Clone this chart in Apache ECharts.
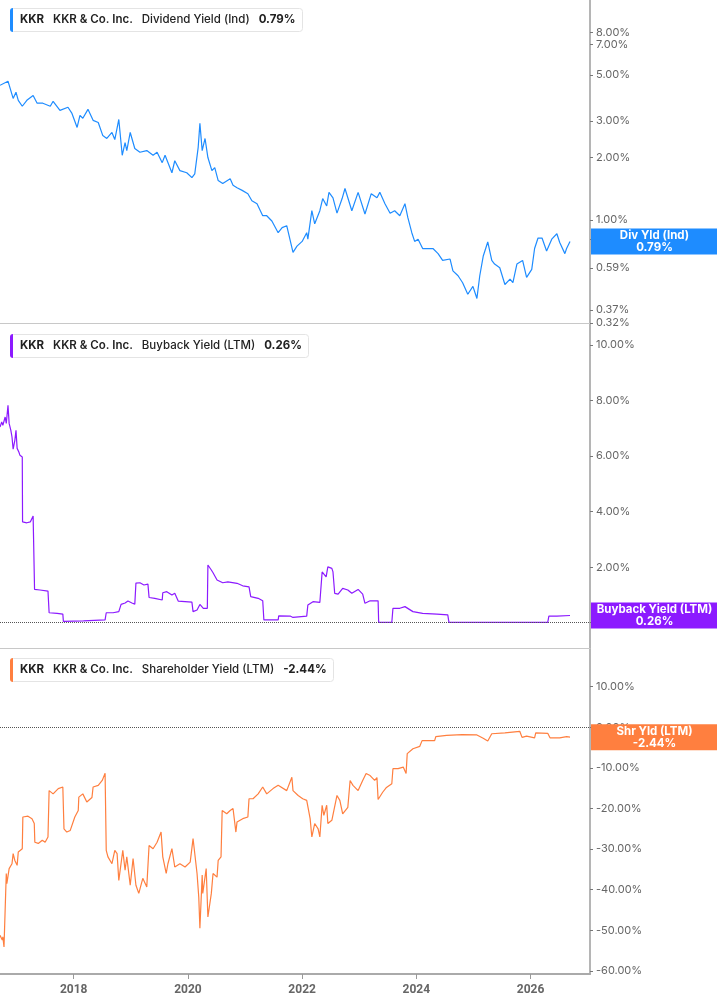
<!DOCTYPE html>
<html>
<head>
<meta charset="utf-8">
<title>KKR yields</title>
<script src="https://cdn.jsdelivr.net/npm/echarts@6/dist/echarts.min.js"></script>
<style>
  html, body { height: 100%; margin: 0; background: #fff; }
  #main { width: 717px; height: 1005px; }
</style>
</head>
<body>
<div id="main"></div>
<script>
// x values are decimal years, y values are percent
var divYield = [
  [2016.71,4.45],[2016.85,4.66],[2016.94,3.85],[2016.99,4.12],[2017.03,3.77],[2017.10,3.53],[2017.18,3.77],
  [2017.29,3.98],[2017.36,3.65],[2017.46,3.65],[2017.59,3.53],[2017.64,3.73],[2017.76,3.37],[2017.90,3.49],
  [2017.97,3.26],[2018.06,2.79],[2018.11,3.19],[2018.16,3.09],[2018.25,3.41],[2018.34,3.02],[2018.43,2.95],
  [2018.51,2.55],[2018.58,2.47],[2018.67,2.64],[2018.72,2.44],[2018.79,3.05],[2018.85,2.05],[2018.90,2.36],
  [2018.93,2.16],[2018.99,2.64],[2019.07,2.21],[2019.16,2.12],[2019.28,2.16],[2019.39,2.05],[2019.46,2.12],
  [2019.55,1.89],[2019.60,2.05],[2019.72,1.69],[2019.77,1.93],[2019.86,1.73],[2019.98,1.69],[2020.07,1.60],
  [2020.12,1.67],[2020.18,2.24],[2020.21,2.92],[2020.25,2.16],[2020.30,2.47],[2020.35,2.00],[2020.42,1.73],
  [2020.47,1.79],[2020.53,1.55],[2020.61,1.50],[2020.74,1.58],[2020.79,1.47],[2020.86,1.43],[2020.95,1.39],
  [2021.05,1.34],[2021.12,1.24],[2021.21,1.20],[2021.31,1.05],[2021.38,1.05],[2021.47,0.99],[2021.58,0.87],
  [2021.65,0.92],[2021.73,0.94],[2021.84,0.70],[2021.91,0.75],[2022.00,0.79],[2022.08,0.87],[2022.10,0.81],
  [2022.17,1.11],[2022.22,0.96],[2022.31,1.11],[2022.36,1.27],[2022.43,1.17],[2022.47,1.36],[2022.54,1.28],
  [2022.61,1.08],[2022.70,1.27],[2022.75,1.42],[2022.87,1.11],[2022.98,1.36],[2023.10,1.07],[2023.21,1.34],
  [2023.31,1.28],[2023.36,1.36],[2023.45,1.20],[2023.54,1.08],[2023.62,1.11],[2023.71,1.05],[2023.80,1.20],
  [2023.85,1.03],[2023.92,0.87],[2023.97,0.79],[2024.03,0.81],[2024.11,0.73],[2024.20,0.73],[2024.29,0.73],
  [2024.38,0.69],[2024.46,0.64],[2024.59,0.65],[2024.64,0.57],[2024.73,0.54],[2024.81,0.50],[2024.90,0.44],
  [2024.99,0.48],[2025.06,0.42],[2025.11,0.54],[2025.17,0.67],[2025.25,0.785],[2025.32,0.64],[2025.37,0.615],
  [2025.46,0.59],[2025.55,0.49],[2025.64,0.52],[2025.69,0.50],[2025.76,0.615],[2025.86,0.64],[2025.93,0.53],
  [2026.02,0.58],[2026.07,0.73],[2026.13,0.82],[2026.20,0.82],[2026.28,0.71],[2026.37,0.81],[2026.46,0.86],
  [2026.51,0.78],[2026.60,0.69],[2026.63,0.73],[2026.69,0.79]
];

var buyback = [
  [2016.71,7.05],[2016.74,7.23],[2016.76,7.11],[2016.80,7.41],[2016.82,7.18],[2016.85,7.83],[2016.87,7.18],
  [2016.90,6.93],[2016.92,6.69],[2016.94,6.25],[2016.97,6.57],[2016.99,6.93],[2017.01,6.28],[2017.04,6.15],
  [2017.06,6.03],[2017.08,6.10],[2017.10,5.97],[2017.105,3.63],[2017.18,3.60],[2017.24,3.63],[2017.29,3.84],
  [2017.31,3.80],[2017.315,1.20],[2017.41,1.18],[2017.55,1.14],[2017.57,0.36],[2017.71,0.34],[2017.81,0.31],
  [2017.82,0.05],[2018.17,0.07],[2018.55,0.10],[2018.57,0.36],[2018.69,0.36],[2018.79,0.40],[2018.83,0.66],
  [2018.90,0.71],[2018.95,0.78],[2019.02,0.71],[2019.07,0.67],[2019.09,1.43],[2019.16,1.44],[2019.23,1.36],
  [2019.30,1.39],[2019.32,0.91],[2019.42,0.88],[2019.55,0.82],[2019.56,1.08],[2019.63,1.12],[2019.72,1.00],
  [2019.77,1.06],[2019.83,0.78],[2019.95,0.76],[2020.07,0.74],[2020.09,0.40],[2020.16,0.46],[2020.21,0.66],
  [2020.27,0.52],[2020.34,0.52],[2020.35,2.08],[2020.41,1.90],[2020.44,1.80],[2020.51,1.54],[2020.61,1.44],
  [2020.70,1.47],[2020.86,1.42],[2020.96,1.33],[2021.07,1.29],[2021.10,0.94],[2021.23,0.88],[2021.31,0.79],
  [2021.33,0.10],[2021.58,0.10],[2021.59,0.25],[2021.79,0.24],[2021.84,0.19],[2022.08,0.24],[2022.10,0.64],
  [2022.19,0.76],[2022.31,0.73],[2022.35,1.83],[2022.36,1.90],[2022.42,1.65],[2022.45,2.01],[2022.52,1.96],
  [2022.54,1.83],[2022.57,1.06],[2022.63,1.03],[2022.71,1.24],[2022.80,1.18],[2022.87,1.06],[2022.98,1.20],
  [2023.06,1.03],[2023.10,0.70],[2023.19,0.79],[2023.33,0.79],[2023.34,0.01],[2023.57,0.01],[2023.59,0.52],
  [2023.71,0.52],[2023.80,0.58],[2023.94,0.40],[2024.11,0.34],[2024.36,0.31],[2024.55,0.28],[2024.57,0.01],
  [2026.30,0.01],[2026.32,0.24],[2026.46,0.24],[2026.69,0.26]
];

var shrYield = [
  [2016.71,-51.2],[2016.75,-52.4],[2016.76,-51.6],[2016.78,-54.1],[2016.82,-36.0],[2016.83,-38.5],[2016.87,-34.8],
  [2016.92,-33.6],[2016.94,-31.1],[2016.97,-32.8],[2017.01,-34.0],[2017.03,-30.7],[2017.10,-29.9],[2017.11,-22.1],
  [2017.20,-21.9],[2017.27,-22.5],[2017.31,-23.7],[2017.32,-28.3],[2017.38,-28.6],[2017.45,-27.8],[2017.50,-28.3],
  [2017.55,-27.0],[2017.57,-15.6],[2017.64,-16.4],[2017.73,-15.1],[2017.81,-14.7],[2017.83,-25.0],[2017.88,-25.8],
  [2017.94,-25.4],[2018.02,-22.1],[2018.08,-20.5],[2018.09,-17.2],[2018.16,-16.4],[2018.23,-18.4],[2018.32,-17.3],
  [2018.34,-14.7],[2018.43,-14.3],[2018.50,-13.1],[2018.55,-11.3],[2018.57,-30.3],[2018.60,-31.9],[2018.67,-33.6],
  [2018.72,-30.3],[2018.76,-31.1],[2018.79,-37.7],[2018.86,-30.3],[2018.90,-35.2],[2018.93,-31.9],[2018.99,-38.9],
  [2019.04,-32.3],[2019.09,-38.9],[2019.14,-40.9],[2019.21,-37.2],[2019.28,-39.3],[2019.32,-29.1],[2019.39,-29.9],
  [2019.46,-28.3],[2019.53,-25.8],[2019.56,-31.9],[2019.62,-36.0],[2019.65,-33.6],[2019.72,-29.9],[2019.77,-34.4],
  [2019.86,-33.6],[2019.95,-34.4],[2020.04,-33.2],[2020.09,-27.4],[2020.12,-27.4],[2020.16,-36.0],[2020.19,-41.8],
  [2020.21,-49.5],[2020.25,-36.4],[2020.26,-40.9],[2020.32,-34.8],[2020.35,-46.7],[2020.41,-40.9],[2020.44,-36.0],
  [2020.51,-36.9],[2020.53,-32.8],[2020.58,-31.9],[2020.60,-20.5],[2020.68,-21.3],[2020.74,-20.5],[2020.79,-20.0],
  [2020.84,-25.8],[2020.86,-23.3],[2020.96,-22.5],[2021.05,-22.1],[2021.07,-17.6],[2021.14,-17.6],[2021.23,-16.4],
  [2021.31,-14.7],[2021.38,-16.4],[2021.49,-15.1],[2021.58,-14.3],[2021.73,-15.6],[2021.82,-12.3],[2021.84,-15.6],
  [2021.93,-16.8],[2022.01,-17.6],[2022.08,-18.0],[2022.14,-22.5],[2022.17,-27.0],[2022.22,-23.7],[2022.28,-25.0],
  [2022.31,-27.0],[2022.35,-19.2],[2022.38,-21.7],[2022.43,-19.2],[2022.45,-23.7],[2022.52,-22.9],[2022.61,-16.8],
  [2022.66,-18.0],[2022.71,-21.3],[2022.80,-19.7],[2022.84,-13.1],[2022.89,-14.3],[2022.98,-15.6],[2023.06,-13.1],
  [2023.12,-11.4],[2023.19,-11.9],[2023.27,-13.1],[2023.31,-12.4],[2023.33,-17.8],[2023.41,-16.0],[2023.47,-14.9],
  [2023.50,-15.1],[2023.57,-13.9],[2023.59,-10.2],[2023.68,-10.2],[2023.77,-9.8],[2023.82,-11.4],[2023.84,-6.5],
  [2023.94,-5.3],[2024.06,-4.7],[2024.10,-3.3],[2024.32,-3.3],[2024.34,-2.3],[2024.53,-2.0],[2024.80,-1.8],
  [2024.81,-2.2],[2025.06,-1.9],[2025.17,-2.7],[2025.25,-3.4],[2025.32,-1.6],[2025.55,-1.4],[2025.58,-1.0],
  [2025.81,-1.0],[2025.85,-2.5],[2025.93,-2.2],[2026.07,-2.6],[2026.09,-1.4],[2026.30,-1.5],[2026.34,-2.6],
  [2026.51,-2.6],[2026.63,-2.3],[2026.69,-2.44]
];

var yearTicks = [2018, 2020, 2022, 2024, 2026];
var divTicks = [0.32, 0.37, 0.59, 0.81, 1, 2, 3, 5, 7, 8];
var buyTicks = [0, 2, 4, 6, 8, 10];
var shrTicks = [10, 0, -10, -20, -30, -40, -50, -60];

var lastDiv = 0.79, lastBuy = 0.26, lastShr = -2.44;
var xMin = 2016.71, xMax = 2027.04;

var C = { div: '#1e8cff', buy: '#8c1aff', shr: '#ff7f3f' };

function pct(v) { return v.toFixed(2) + '%'; }

function titleFor(top, color, metric, value) {
  var base = { fontFamily: 'Inter', fontSize: 11.5, color: '#222', lineHeight: 24 };
  return {
    left: 10, top: top, padding: 0,
    backgroundColor: '#fff', borderColor: '#e4e4e4', borderWidth: 1, borderRadius: 3,
    text: '{bar|}{k|KKR}{n|KKR & Co. Inc.}{d|' + metric + '}{v|' + value + '}',
    textStyle: {
      rich: {
        bar: { backgroundColor: color, width: 3, height: 24, borderRadius: [3, 0, 0, 3] },
        k: Object.assign({}, base, { fontWeight: 700, padding: [0, 0, 0, 7] }),
        n: Object.assign({}, base, { fontWeight: 600, padding: [0, 0, 0, 9] }),
        d: Object.assign({}, base, { fontWeight: 500, padding: [0, 0, 0, 9] }),
        v: Object.assign({}, base, { fontWeight: 700, padding: [0, 7, 0, 9] })
      }
    }
  };
}

function xAxisFor(idx, bottom) {
  return {
    gridIndex: idx, type: 'value', min: xMin, max: xMax,
    splitLine: { show: false },
    axisLine: { show: true, onZero: false, lineStyle: { color: bottom ? '#aaaaaa' : '#c8c8c8', width: bottom ? 2 : 1 } },
    axisTick: { show: bottom, length: 5, customValues: yearTicks, lineStyle: { color: '#999' } },
    axisLabel: {
      show: bottom, customValues: yearTicks, margin: 10,
      color: '#666', fontSize: 12, fontWeight: 'bold', fontFamily: 'Roboto',
      formatter: function (v) { return String(v); }
    }
  };
}

function yAxisFor(idx, type, min, max, ticks) {
  return {
    gridIndex: idx, type: type, position: 'right', min: min, max: max,
    splitLine: { show: false },
    axisLine: { show: true, onZero: false, lineStyle: { color: '#b5b5b5', width: 2 } },
    axisTick: { show: true, length: 3, customValues: ticks, lineStyle: { color: '#777' } },
    axisLabel: {
      customValues: ticks, margin: 6, color: '#666', fontSize: 11, fontFamily: 'Inter',
      formatter: function (v) { return pct(v); }
    }
  };
}

function endMark(value, name, color, zeroLine) {
  var data = [{
    yAxis: value,
    lineStyle: { color: 'rgba(0,0,0,0)', width: 0 },
    label: {
      show: true, position: 'end', distance: 1, opacity: 1,
      formatter: '{t|' + name + '}\n{t|' + pct(value) + '}',
      backgroundColor: color, width: 127, padding: [1, 0],
      rich: { t: { color: '#fff', fontWeight: 'bold', fontSize: 11.5, fontFamily: 'Inter', lineHeight: 12, align: 'center', width: 127 } }
    }
  }];
  if (zeroLine) {
    data.unshift({ yAxis: 0, lineStyle: { type: 'dotted', color: '#555', width: 1 }, label: { show: false } });
  }
  return { symbol: ['none', 'none'], silent: true, animation: false, data: data };
}

var chart = echarts.init(document.getElementById('main'));
chart.setOption({
  animation: false,
  backgroundColor: '#fff',
  title: [
    titleFor(8, C.div, 'Dividend Yield (Ind)', pct(lastDiv)),
    titleFor(334, C.buy, 'Buyback Yield (LTM)', pct(lastBuy)),
    titleFor(658, C.shr, 'Shareholder Yield (LTM)', pct(lastShr))
  ],
  grid: [
    { left: 0, right: 127, top: 0, height: 323 },
    { left: 0, right: 127, top: 324, height: 324 },
    { left: 0, right: 127, top: 649, height: 325 }
  ],
  xAxis: [xAxisFor(0, false), xAxisFor(1, false), xAxisFor(2, true)],
  yAxis: [
    yAxisFor(0, 'log', 0.32, 11.45, divTicks),
    yAxisFor(1, 'value', -0.91, 10.76, buyTicks),
    yAxisFor(2, 'value', -60.74, 19.26, shrTicks)
  ],
  series: [
    {
      name: 'Div Yld (Ind)', type: 'line', xAxisIndex: 0, yAxisIndex: 0, data: divYield,
      showSymbol: false, lineStyle: { color: C.div, width: 1.2 }, itemStyle: { color: C.div },
      markLine: endMark(lastDiv, 'Div Yld (Ind)', C.div, false)
    },
    {
      name: 'Buyback Yield (LTM)', type: 'line', xAxisIndex: 1, yAxisIndex: 1, data: buyback,
      showSymbol: false, lineStyle: { color: C.buy, width: 1.2 }, itemStyle: { color: C.buy },
      markLine: endMark(lastBuy, 'Buyback Yield (LTM)', C.buy, true)
    },
    {
      name: 'Shr Yld (LTM)', type: 'line', xAxisIndex: 2, yAxisIndex: 2, data: shrYield,
      showSymbol: false, lineStyle: { color: C.shr, width: 1.2 }, itemStyle: { color: C.shr },
      markLine: endMark(lastShr, 'Shr Yld (LTM)', C.shr, true)
    }
  ]
});
</script>
</body>
</html>
